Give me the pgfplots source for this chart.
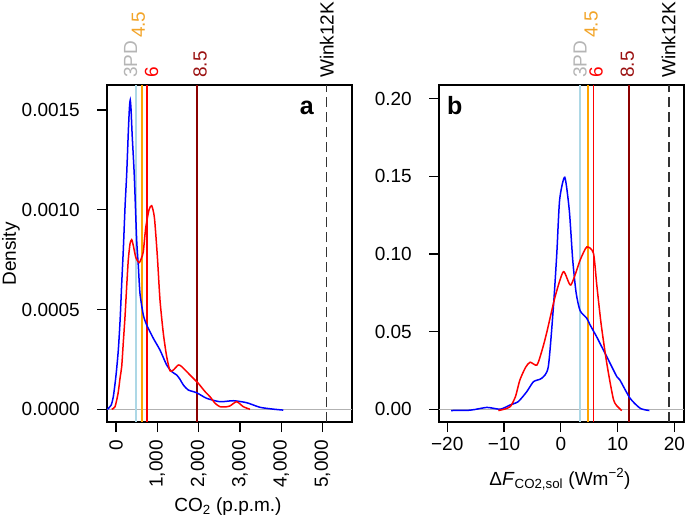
\documentclass[border=0pt]{standalone}
\usepackage{pgfplots}
\pgfplotsset{compat=1.18}
\usepackage{fontspec}
\setmainfont{Liberation Sans}

\definecolor{rblue}{HTML}{0000FF}
\definecolor{rred}{HTML}{FF0000}
\definecolor{rlightblue}{HTML}{ADD8E6}
\definecolor{rorange}{HTML}{FFA500}
\definecolor{rdarkred}{HTML}{8B0000}
\definecolor{rgreytxt}{HTML}{B5B5B5}
\definecolor{rorangetxt}{HTML}{F2A428}
\definecolor{rdarkredtxt}{HTML}{9A1010}

\newcommand{\lab}{\fontsize{19bp}{22bp}\selectfont}
% padding that pushes tick labels away from the axis
\newcommand{\yl}[1]{#1\hspace*{17bp}}
\newcommand{\xa}[1]{#1\hspace*{8bp}}
\newcommand{\xb}[1]{\rule{0pt}{18.6bp}#1}

\pgfplotsset{
  rpanel/.style={
    scale only axis,
    width=245bp, height=337bp,
    anchor=north west,
    clip=false,
    scaled ticks=false,
    axis line style={black, line width=1.3bp},
    tick align=outside,
    major tick length=10bp,
    tick style={black, line width=1.3bp},
    xtick pos=bottom, ytick pos=left,
    tick label style={font=\lab, inner sep=0pt},
    yticklabel style={anchor=east},
  },
  dens/.style={line width=1.5bp, smooth, tension=0.4, mark=none},
  vline/.style={line width=1.6bp, mark=none},
}

\begin{document}
\begin{tikzpicture}
\path[use as bounding box] (0,0) rectangle (685bp,-521bp);

% ---------- panel a ----------
\begin{axis}[rpanel, at={(107bp,-85bp)},
  xmin=-218, xmax=5714, ymin=-0.0000636, ymax=0.001625,
  xtick={0,1000,2000,3000,4000,5000},
  xticklabels={\xa{0},\xa{1,000},\xa{2,000},\xa{3,000},\xa{4,000},\xa{5,000}},
  xticklabel style={rotate=90, anchor=east},
  ytick={0,0.0005,0.001,0.0015},
  yticklabels={\yl{0.0000},\yl{0.0005},\yl{0.0010},\yl{0.0015}},
]
\addplot[gray!60, line width=1bp, mark=none] coordinates {(-218,0) (5714,0)};
\addplot[vline, rlightblue] coordinates {(490,-0.0000636) (490,0.001625)};
\addplot[vline, rorange] coordinates {(630,-0.0000636) (630,0.001625)};
\addplot[vline, rred] coordinates {(745,-0.0000636) (745,0.001625)};
\addplot[vline, rdarkred] coordinates {(1965,-0.0000636) (1965,0.001625)};
\addplot[vline, black!80, dash pattern=on 10bp off 5bp] coordinates {(5100,-0.0000636) (5100,0.001625)};

\addplot[dens, rblue] coordinates {
  (-210,0) (-120,0.00002) (-65,0.000063) (0,0.00017) (56,0.000297)
  (100,0.00045) (138,0.00063) (177,0.0008) (220,0.00102) (259,0.00118)
  (300,0.0014) (325,0.00151) (345,0.00155) (365,0.0015) (390,0.00138)
  (443,0.00117) (500,0.00085) (540,0.00072) (581,0.00058) (661,0.000473)
  (742,0.000423) (903,0.000356) (1065,0.000297) (1227,0.000222)
  (1348,0.000189) (1469,0.000172) (1550,0.00015) (1630,0.000122)
  (1750,0.0000967) (1953,0.000083) (2196,0.000055) (2518,0.000038)
  (2840,0.000043) (3165,0.000033) (3487,0.00001) (3800,0.000001) (4050,-0.000004)
};
\addplot[dens, rred] coordinates {
  (-104,0) (-24,0.000013) (50,0.00008) (100,0.00016) (138,0.000214)
  (175,0.00033) (218,0.000464) (260,0.00062) (298,0.00075) (340,0.00083)
  (380,0.00085) (420,0.00082) (480,0.00076) (560,0.000735) (620,0.00076)
  (661,0.00079) (720,0.00091) (800,0.001) (864,0.00102) (930,0.00096)
  (1000,0.00077) (1065,0.000548) (1146,0.00038) (1227,0.000264)
  (1307,0.000193) (1388,0.000197) (1509,0.000222) (1590,0.000214)
  (1792,0.000172) (1993,0.00013) (2150,0.00009) (2276,0.000063)
  (2400,0.00003) (2518,0.000013) (2650,0.000012) (2760,0.000017)
  (2922,0.000038) (3083,0.000013) (3245,0)
};

\node[rotate=90, anchor=west, inner sep=0pt, text=rgreytxt, font=\lab] at (axis cs:356,0.00166) {3PD};
\node[rotate=90, anchor=west, inner sep=0pt, text=rorangetxt, font=\lab] at (axis cs:540,0.00186) {4.5};
\node[rotate=90, anchor=west, inner sep=0pt, text=rred, font=\lab] at (axis cs:864,0.00166) {6};
\node[rotate=90, anchor=west, inner sep=0pt, text=rdarkredtxt, font=\lab] at (axis cs:2034,0.00166) {8.5};
\node[rotate=90, anchor=west, inner sep=0pt, text=black, font=\lab] at (axis cs:5102,0.00166) {Wink12K};
\node[anchor=base, inner sep=0pt, font=\fontsize{25bp}{28bp}\selectfont\bfseries] at (rel axis cs:0.816,0.911) {a};
\end{axis}

% ---------- panel b ----------
\begin{axis}[rpanel, at={(439bp,-85bp)},
  xmin=-21.45, xmax=21.7, ymin=-0.0082, ymax=0.2088,
  xtick={-20,-10,0,10,20},
  xticklabels={\xb{−20},\xb{−10},\xb{0},\xb{10},\xb{20}},
  ytick={0,0.05,0.1,0.15,0.2},
  yticklabels={\yl{0.00},\yl{0.05},\yl{0.10},\yl{0.15},\yl{0.20}},
]
\addplot[gray!60, line width=1bp, mark=none] coordinates {(-21.45,0) (21.7,0)};
\addplot[vline, rlightblue] coordinates {(3.4,-0.0082) (3.4,0.2088)};
\addplot[vline, rorange] coordinates {(4.75,-0.0082) (4.75,0.2088)};
\addplot[vline, rred] coordinates {(5.75,-0.0082) (5.75,0.2088)};
\addplot[vline, rdarkred] coordinates {(11.98,-0.0082) (11.98,0.2088)};
\addplot[vline, black!80, dash pattern=on 10bp off 5bp] coordinates {(19.1,-0.0082) (19.1,0.2088)};

\addplot[dens, rblue] coordinates {
  (-19.3,-0.0008) (-16,-0.0006) (-14.5,0.0003) (-13,0.0012) (-11.8,0.0006)
  (-10.7,0) (-9.8,0.0012) (-8.9,0.0028) (-7.5,0.0049) (-6,0.0113)
  (-4.8,0.0178) (-3.35,0.02) (-2.2,0.0274) (-1.3,0.066) (-0.7,0.1005)
  (-0.2,0.135) (0.7,0.1494) (1.5,0.128) (2.1,0.0962) (2.7,0.075)
  (3.4,0.0635) (4.58,0.0586) (5.16,0.0543) (6.3,0.0468) (7.2,0.0403)
  (8.1,0.0339) (9.87,0.021) (10.4,0.0189) (12.2,0.0071) (14,0.0006) (15.6,-0.0008)
};
\addplot[dens, rred] coordinates {
  (-11,-0.0008) (-10,0) (-8.9,0.0017) (-8,0.008) (-7.2,0.0189) (-6.2,0.027)
  (-5.4,0.0303) (-4.2,0.0285) (-3.3,0.038) (-2.5,0.049) (-1,0.0725)
  (0.46,0.0886) (1.76,0.080) (3.4,0.096) (4.58,0.1045) (5.75,0.1005)
  (6.34,0.08) (7.1,0.055) (8.1,0.0296) (9.3,0.006) (10.3,0.0006) (10.75,-0.0008)
};

\node[rotate=90, anchor=west, inner sep=0pt, text=rgreytxt, font=\lab] at (axis cs:3.4,0.2133) {3PD};
\node[rotate=90, anchor=west, inner sep=0pt, text=rorangetxt, font=\lab] at (axis cs:5.34,0.2391) {4.5};
\node[rotate=90, anchor=west, inner sep=0pt, text=rred, font=\lab] at (axis cs:6.22,0.2133) {6};
\node[rotate=90, anchor=west, inner sep=0pt, text=rdarkredtxt, font=\lab] at (axis cs:11.7,0.2133) {8.5};
\node[rotate=90, anchor=west, inner sep=0pt, text=black, font=\lab] at (axis cs:18.95,0.2133) {Wink12K};
\node[anchor=base, inner sep=0pt, font=\fontsize{25bp}{28bp}\selectfont\bfseries] at (rel axis cs:0.064,0.911) {b};
\end{axis}

% axis titles
\node[rotate=90, inner sep=0pt, font=\lab] at (11bp,-254bp) {Density};
\node[anchor=base, inner sep=0pt, font=\lab] at (228bp,-511bp) {CO\textsubscript{2} (p.p.m.)};
\node[anchor=base, inner sep=0pt, font=\lab] at (560bp,-485bp) {Δ\textit{F}\textsubscript{CO2,sol} (Wm\textsuperscript{−2})};
\end{tikzpicture}
\end{document}
